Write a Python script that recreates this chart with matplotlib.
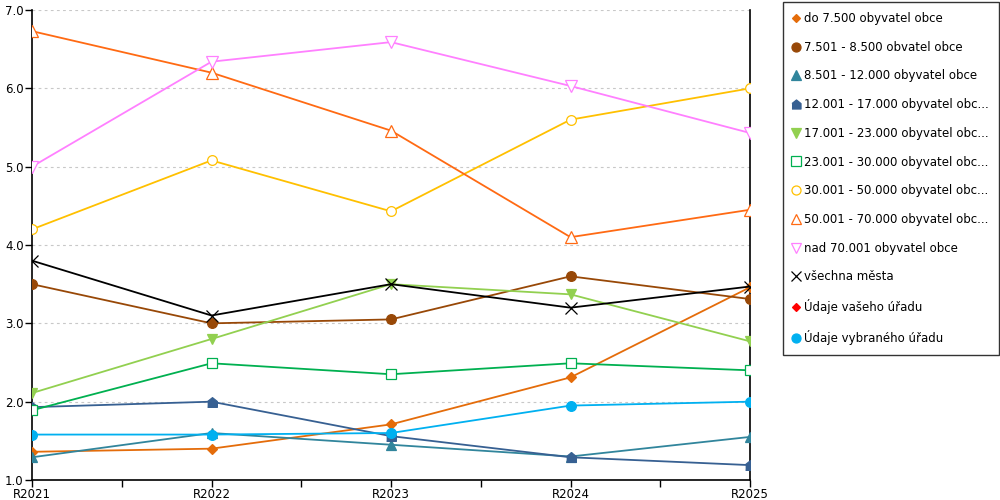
import matplotlib.pyplot as plt
from matplotlib.lines import Line2D
from matplotlib.ticker import MultipleLocator, FormatStrFormatter

years = ['R2021', 'R2022', 'R2023', 'R2024', 'R2025']

do_7500 = [1.36, 1.40, 1.71, 2.31, 3.46]
od_7501 = [3.50, 3.00, 3.05, 3.60, 3.31]
od_8501 = [1.29, 1.60, 1.45, 1.30, 1.55]
od_12001 = [1.93, 2.00, 1.56, 1.29, 1.19]
od_17001 = [2.11, 2.80, 3.50, 3.37, 2.77]
od_23001 = [1.89, 2.49, 2.35, 2.49, 2.40]
od_30001 = [4.20, 5.08, 4.43, 5.60, 6.00]
od_50001 = [6.73, 6.20, 5.46, 4.10, 4.45]
nad_70001 = [5.00, 6.34, 6.59, 6.03, 5.43]
vsechna = [3.80, 3.10, 3.50, 3.20, 3.47]
vaseho = []
vybraneho = [1.58, 1.58, 1.60, 1.95, 2.00]

labels = ['do 7.500 obyvatel obce', '7.501 - 8.500 obvatel obce',
          '8.501 - 12.000 obyvatel obce', '12.001 - 17.000 obyvatel obc...',
          '17.001 - 23.000 obyvatel obc...', '23.001 - 30.000 obyvatel obc...',
          '30.001 - 50.000 obyvatel obc...', '50.001 - 70.000 obyvatel obc...',
          'nad 70.001 obyvatel obce', 'všechna města',
          'Údaje vašeho úřadu', 'Údaje vybraného úřadu']

house = [(-1, -1), (1, -1), (1, 0.2), (0, 1), (-1, 0.2)]

# (data, colour, marker, filled, marker size)
series = [
    (do_7500, '#E46C0A', 'D', True, 5),
    (od_7501, '#984807', 'o', True, 7),
    (od_8501, '#31859C', '^', True, 7),
    (od_12001, '#376092', house, True, 7),
    (od_17001, '#92D050', 'v', True, 7),
    (od_23001, '#00B050', 's', False, 7),
    (od_30001, '#FFC000', 'o', False, 7),
    (od_50001, '#FF6A13', '^', False, 8),
    (nad_70001, '#FF80FF', 'v', False, 8),
    (vsechna, '#000000', 'x', True, 8),
    (vaseho, '#FF0000', 'D', True, 5),
    (vybraneho, '#00B0F0', 'o', True, 7),
]

fig = plt.figure(figsize=(10, 5), dpi=100)
ax = fig.add_axes([0.032, 0.04, 0.718, 0.94])

handles = []
for (vals, col, mk, filled, ms), lab in zip(series, labels):
    fc = col if filled else 'white'
    if vals:
        ax.plot(range(len(vals)), vals, color=col, lw=1.3, marker=mk, ms=ms,
                mfc=fc, mec=col, mew=0.9, zorder=3)
    handles.append(Line2D([], [], ls='none', marker=mk, ms=ms - 0.5,
                          mfc=col if filled else 'none', mec=col, mew=0.9))

ax.set_xlim(0, 4)
ax.set_ylim(1, 7)
ax.set_xticks(range(5))
ax.set_xticklabels(years)
ax.xaxis.set_minor_locator(MultipleLocator(0.5))
ax.yaxis.set_major_locator(MultipleLocator(1))
ax.yaxis.set_major_formatter(FormatStrFormatter('%.1f'))
ax.tick_params(axis='both', which='both', length=5, width=1, labelsize=8.5,
               pad=1, colors='black')
ax.grid(axis='y', color='#C8C8C8', ls=(0, (2.5, 3)), lw=0.8)
ax.spines['top'].set_visible(False)
for s in ['left', 'right', 'bottom']:
    ax.spines[s].set_linewidth(1.2)

leg = fig.legend(handles, labels, loc='upper left',
                 bbox_to_anchor=(0.783, 0.996, 0.215, 0.0),
                 fontsize=8.5, frameon=True, fancybox=False, borderpad=0.85,
                 labelspacing=1.33, handlelength=0.5, handletextpad=0.45,
                 borderaxespad=0)
leg.get_frame().set_edgecolor('black')
leg.get_frame().set_linewidth(1.0)

plt.savefig('out.png')
